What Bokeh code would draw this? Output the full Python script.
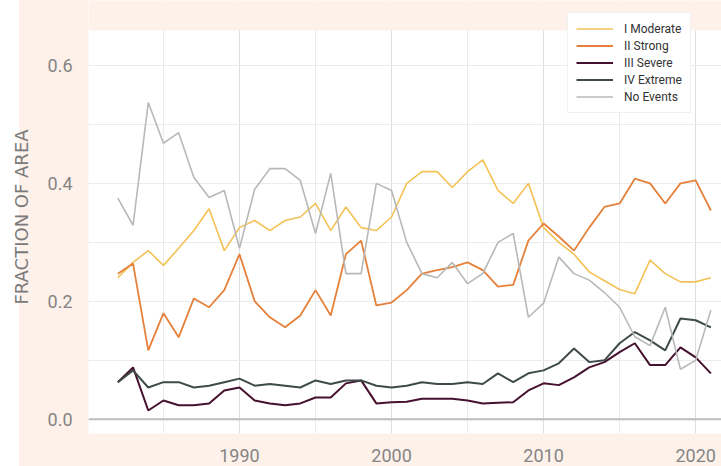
from bokeh.plotting import figure
from bokeh.models import (FixedTicker, Span, Legend, LegendItem, Range1d,
                          BoxAnnotation, NumeralTickFormatter)
from bokeh.embed import file_html
from bokeh.resources import INLINE

# Fraction of area under each drought category, per year
years = list(range(1982, 2022))

moderate = [0.240, 0.266, 0.286, 0.261, 0.290, 0.320, 0.357, 0.286, 0.325, 0.337,
            0.320, 0.337, 0.343, 0.366, 0.320, 0.360, 0.325, 0.320, 0.343, 0.400,
            0.420, 0.420, 0.393, 0.420, 0.440, 0.388, 0.366, 0.400, 0.325, 0.300,
            0.280, 0.250, 0.235, 0.220, 0.213, 0.270, 0.247, 0.233, 0.233, 0.240]

strong = [0.247, 0.264, 0.117, 0.180, 0.139, 0.205, 0.190, 0.219, 0.280, 0.200,
          0.173, 0.156, 0.176, 0.219, 0.176, 0.280, 0.303, 0.193, 0.198, 0.219,
          0.247, 0.253, 0.258, 0.266, 0.253, 0.225, 0.228, 0.303, 0.332, 0.310,
          0.286, 0.325, 0.360, 0.366, 0.408, 0.400, 0.366, 0.400, 0.405, 0.354]

severe = [0.063, 0.088, 0.015, 0.032, 0.024, 0.024, 0.027, 0.049, 0.054, 0.032,
          0.027, 0.024, 0.027, 0.037, 0.037, 0.061, 0.066, 0.027, 0.029, 0.030,
          0.035, 0.035, 0.035, 0.032, 0.027, 0.028, 0.029, 0.049, 0.061, 0.058,
          0.071, 0.088, 0.097, 0.114, 0.129, 0.092, 0.092, 0.122, 0.105, 0.078]

extreme = [0.063, 0.083, 0.054, 0.063, 0.063, 0.054, 0.057, 0.063, 0.069, 0.057,
           0.060, 0.057, 0.054, 0.066, 0.060, 0.066, 0.066, 0.057, 0.054, 0.057,
           0.063, 0.060, 0.060, 0.063, 0.060, 0.078, 0.063, 0.078, 0.083, 0.095,
           0.120, 0.097, 0.100, 0.129, 0.148, 0.134, 0.117, 0.171, 0.168, 0.156]

no_events = [0.375, 0.329, 0.537, 0.468, 0.486, 0.410, 0.376, 0.388, 0.290, 0.390,
             0.425, 0.425, 0.405, 0.315, 0.417, 0.247, 0.247, 0.400, 0.388, 0.300,
             0.247, 0.240, 0.266, 0.230, 0.247, 0.300, 0.315, 0.173, 0.197, 0.275,
             0.247, 0.236, 0.215, 0.190, 0.140, 0.125, 0.190, 0.085, 0.100, 0.185]

x_ticks = [1990, 2000, 2010, 2020]
x_minor = [1985, 1995, 2005, 2015]
y_ticks = [0.0, 0.2, 0.4, 0.6]
y_minor = [0.1, 0.3, 0.5]

series = [
    ("I Moderate", moderate, "#f3c257", 1.6),
    ("II Strong", strong, "#e5813a", 1.8),
    ("III Severe", severe, "#45112f", 2.0),
    ("IV Extreme", extreme, "#3e4b48", 2.0),
    ("No Events", no_events, "#b8b8b8", 1.6),
]

PEACH = "#fdf1ea"
Y_TOP = 0.659  # top of the white plotting area

# The frame reaches the top edge of the canvas; the band above Y_TOP is
# painted peach so that the legend can sit across the plot's upper edge.
p = figure(width=721, height=466, output_backend="svg", toolbar_location=None,
           x_range=Range1d(1980.07, 2021.7), y_range=Range1d(-0.024, 0.710),
           min_border_left=88, min_border_right=0, min_border_top=0,
           min_border_bottom=33)

p.styles = {"background": f"linear-gradient(to right, #ffffff 19px, {PEACH} 19px)"}
p.border_fill_alpha = 0
p.background_fill_color = "#ffffff"
p.outline_line_color = None

# axes
p.xaxis.ticker = FixedTicker(ticks=x_ticks, minor_ticks=x_minor)
p.yaxis.ticker = FixedTicker(ticks=y_ticks, minor_ticks=y_minor)
p.yaxis.formatter = NumeralTickFormatter(format="0.0")

for ax in (p.xaxis, p.yaxis):
    ax.axis_line_color = None
    ax.major_tick_line_color = None
    ax.minor_tick_line_color = None
    ax.major_label_text_font = "Roboto"
    ax.major_label_text_font_size = "18px"
    ax.major_label_text_color = "#858585"

p.xaxis.major_label_standoff = 9
p.yaxis.major_label_standoff = 10
p.yaxis.axis_label = "FRACTION OF AREA"
p.yaxis.axis_label_text_font = "DejaVu Sans"
p.yaxis.axis_label_text_font_style = "normal"
p.yaxis.axis_label_text_font_size = "18px"
p.yaxis.axis_label_text_color = "#7a7a7a"
p.yaxis.axis_label_standoff = 13

# grid
p.xgrid.grid_line_color = "#dedede"
p.xgrid.minor_grid_line_color = "#ececec"
p.ygrid.grid_line_color = "#ebebeb"
p.ygrid.minor_grid_line_color = "#ebebeb"

p.add_layout(Span(location=0.0, dimension="width", line_color="#bdbdbd",
                  line_width=2))

items = []
for name, vals, color, w in series:
    r = p.line(years, vals, line_color=color, line_width=w)
    items.append(LegendItem(label=name, renderers=[r]))

# peach band above the plotting area
p.add_layout(BoxAnnotation(bottom=Y_TOP, fill_color=PEACH, fill_alpha=1.0,
                           line_color=None))

legend = Legend(items=items, location=(479, 320))
legend.label_text_font = "Roboto"
legend.label_text_font_size = "12px"
legend.label_text_color = "#333333"
legend.glyph_width = 37
legend.glyph_height = 15
legend.label_height = 15
legend.label_standoff = 11
legend.spacing = 2
legend.padding = 8
legend.margin = 0
legend.border_line_color = "#e4e4e4"
legend.background_fill_color = "#ffffff"
legend.background_fill_alpha = 1.0
p.add_layout(legend, "center")

open("out.html", "w").write(file_html(p, INLINE))
